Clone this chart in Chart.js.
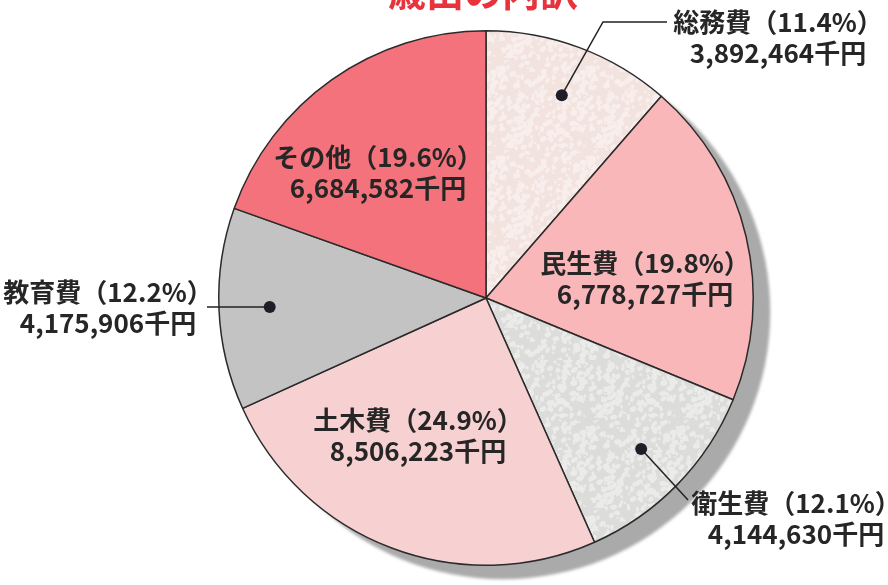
<!DOCTYPE html>
<html lang="ja">
<head>
<meta charset="utf-8">
<script src="https://cdn.jsdelivr.net/npm/chart.js@4.4.1/dist/chart.umd.min.js"></script>
<style>
  html, body { margin: 0; padding: 0; background: #ffffff; }
  #wrap { width: 888px; height: 585px; position: relative; }
</style>
</head>
<body>
<div id="wrap"><canvas id="budgetChart" width="888" height="585"></canvas></div>
<script>
// 歳出の内訳（千円）
const categories = ['総務費', '民生費', '衛生費', '土木費', '教育費', 'その他'];
const amounts = [3892464, 6778727, 4144630, 8506223, 4175906, 6684582];
const percentLabels = ['11.4%', '19.8%', '12.1%', '24.9%', '12.2%', '19.6%'];
const sliceColors = ['#f2e3df', '#f9b7ba', '#dcdcdb', '#f7d0d1', '#c3c3c3', '#f3727b'];
// 地紋（まだら模様）の明るい色、null は無地
const speckleColors = ['#f8eeec', null, '#ebebea', null, null, null];

const chartTitle = '歳出の内訳';
const FONT = "'Noto Sans CJK JP', 'Noto Sans', sans-serif";

// ラベルの配置（キャンバス座標）と引き出し線
const labelLayout = [
    { x: 778, y: 22, dot: true, line: [[603, 22], [667, 22]] },
    { x: 645, y: 263 },
    { x: 796, y: 503, dot: true, line: [[688, 500]] },
    { x: 418, y: 420 },
    { x: 108, y: 292, dot: true, line: [[207, 307]] },
    { x: 378, y: 157 }
];

function fmt(n) {
    return n.toLocaleString('en-US');
}

// 印刷の地紋っぽいパターン（決まった式で作る）
function makeSpeckle(base, light) {
    if (!light) return base;
    const c = document.createElement('canvas');
    c.width = 90; c.height = 90;
    const g = c.getContext('2d');
    g.fillStyle = base;
    g.fillRect(0, 0, 90, 90);
    g.fillStyle = light;
    for (let i = 0; i < 320; i++) {
        const h1 = Math.abs(Math.sin(i * 12.9898 + 4.1) * 43758.5453) % 1;
        const h2 = Math.abs(Math.sin(i * 78.233 + 1.7) * 24634.6345) % 1;
        const h3 = Math.abs(Math.sin(i * 39.425 + 9.3) * 13758.937) % 1;
        const x = h1 * 90, y = h2 * 90, r = 0.8 + h3 * 1.8;
        g.beginPath();
        g.ellipse(x, y, r * 1.4, r, h3 * 3, 0, Math.PI * 2);
        g.fill();
    }
    return g.createPattern(c, 'repeat');
}

// 影（右下にずらした灰色の円）
const shadowPlugin = {
    id: 'pieShadow',
    beforeDatasetsDraw(chart) {
        const arc = chart.getDatasetMeta(0).data[0];
        if (!arc) return;
        const ctx = chart.ctx;
        ctx.save();
        ctx.fillStyle = '#aaaaaa';
        ctx.filter = 'blur(1.5px)';
        ctx.beginPath();
        ctx.arc(arc.x + 17, arc.y + 14, arc.outerRadius, 0, Math.PI * 2);
        ctx.fill();
        ctx.restore();
    }
};

// タイトルとラベル
const labelPlugin = {
    id: 'sliceLabels',
    afterDatasetsDraw(chart) {
        const ctx = chart.ctx;
        const meta = chart.getDatasetMeta(0);
        ctx.save();

        // タイトル（上が切れている）
        ctx.fillStyle = '#e8333d';
        ctx.font = 'bold 38px ' + FONT;
        ctx.textAlign = 'center';
        ctx.textBaseline = 'alphabetic';
        ctx.fillText(chartTitle, 483, 6);

        meta.data.forEach(function(arc, i) {
            const lay = labelLayout[i];
            if (lay.dot) {
                const mid = (arc.startAngle + arc.endAngle) / 2;
                const r = arc.outerRadius * 0.81;
                const dx = arc.x + Math.cos(mid) * r;
                const dy = arc.y + Math.sin(mid) * r;
                ctx.strokeStyle = '#222';
                ctx.lineWidth = 1.5;
                ctx.beginPath();
                ctx.moveTo(dx, dy);
                lay.line.forEach(function(p) { ctx.lineTo(p[0], p[1]); });
                ctx.stroke();
                ctx.fillStyle = '#1e1e28';
                ctx.beginPath();
                ctx.arc(dx, dy, 6, 0, Math.PI * 2);
                ctx.fill();
            }
            ctx.fillStyle = '#262626';
            ctx.font = 'bold 26px ' + FONT;
            ctx.textAlign = 'center';
            ctx.textBaseline = 'middle';
            ctx.fillText(categories[i] + '（' + percentLabels[i] + '）', lay.x, lay.y);
            ctx.fillText(fmt(amounts[i]) + '千円', lay.x, lay.y + 31);
        });
        ctx.restore();
    }
};

const config = {
    type: 'pie',
    data: {
        labels: categories,
        datasets: [{
            data: amounts,
            backgroundColor: sliceColors.map(function(c, i) { return makeSpeckle(c, speckleColors[i]); }),
            borderColor: '#2b2b2b',
            borderWidth: 1.5,
            hoverOffset: 0
        }]
    },
    options: {
        responsive: false,
        animation: false,
        layout: {
            padding: { top: 30, bottom: 19, left: 84, right: 0 }
        },
        plugins: {
            legend: { display: false },
            tooltip: { enabled: false },
            title: { display: false }
        }
    },
    plugins: [shadowPlugin, labelPlugin]
};

new Chart(document.getElementById('budgetChart'), config);
</script>
</body>
</html>
